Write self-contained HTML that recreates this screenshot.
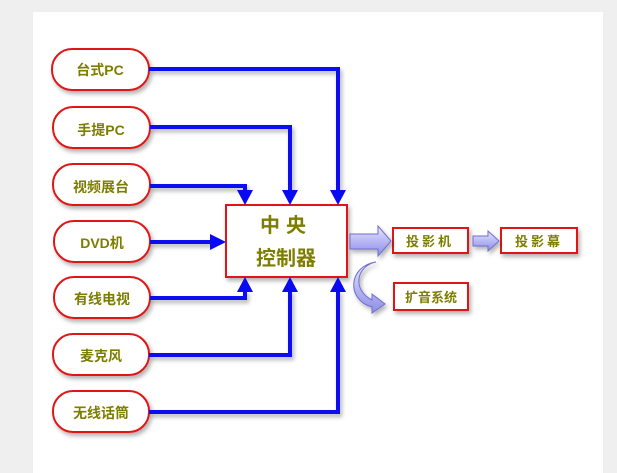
<!DOCTYPE html>
<html><head><meta charset="utf-8"><style>
html,body{margin:0;padding:0;background:#efefef;}
svg{display:block}
text{font-family:"Liberation Sans","Noto Sans CJK SC",sans-serif;font-weight:bold;fill:#7d7d00;}
</style></head><body>
<svg width="617" height="473" viewBox="0 0 617 473" xmlns="http://www.w3.org/2000/svg">
<defs>
<filter id="sh" x="-20%" y="-20%" width="150%" height="150%"><feDropShadow dx="2" dy="3" stdDeviation="2" flood-color="#000" flood-opacity="0.3"/></filter>
<linearGradient id="ag" x1="0" y1="0" x2="0" y2="1"><stop offset="0" stop-color="#e8e8ff"/><stop offset="0.5" stop-color="#b8b8f4"/><stop offset="1" stop-color="#8e8ee6"/></linearGradient>
</defs>
<rect x="33" y="12" width="570" height="461" fill="#fff"/>
<g fill="#fff" stroke="#e01818" stroke-width="2" filter="url(#sh)">
<rect x="52" y="49" width="97" height="41" rx="20"/>
<rect x="53" y="107" width="97" height="41" rx="20"/>
<rect x="53" y="164" width="97" height="41" rx="20"/>
<rect x="54" y="221" width="96" height="41" rx="20"/>
<rect x="54" y="277" width="96" height="41" rx="20"/>
<rect x="53" y="334" width="96" height="41" rx="20"/>
<rect x="53" y="391" width="96" height="41" rx="20"/>
<rect x="226" y="205" width="121" height="72"/>
<rect x="393" y="228" width="75" height="25"/>
<rect x="501" y="228" width="76" height="25"/>
<rect x="394" y="283" width="74" height="27"/>
</g>
<g font-size="14" text-anchor="middle">
<text x="100" y="75">台式PC</text>
<text x="101" y="135">手提PC</text>
<text x="101" y="192">视频展台</text>
<text x="102" y="248">DVD机</text>
<text x="102" y="304">有线电视</text>
<text x="101" y="361">麦克风</text>
<text x="101" y="418">无线话筒</text>
<text x="430" y="246" font-size="13" letter-spacing="3">投影机</text>
<text x="539" y="246" font-size="13" letter-spacing="3">投影幕</text>
<text x="431" y="302" font-size="13">扩音系统</text>
</g>
<text x="286" y="232" font-size="20" text-anchor="middle" letter-spacing="6">中央</text>
<text x="286" y="265" font-size="20" text-anchor="middle">控制器</text>
<g fill="none" stroke="#0a0af0" stroke-width="4" filter="url(#sh)">
<polyline points="149,69 338,69 338,192"/>
<polyline points="150,127 290,127 290,192"/>
<polyline points="150,186 245,186 245,192"/>
<polyline points="150,242 212,242"/>
<polyline points="150,298 245,298 245,290"/>
<polyline points="149,355 290,355 290,290"/>
<polyline points="149,412 338,412 338,290"/>
</g>
<g fill="#0a0af0">
<polygon points="330,190 346,190 338,205"/>
<polygon points="282,190 298,190 290,205"/>
<polygon points="237,190 253,190 245,205"/>
<polygon points="210,234 210,250 226,242"/>
<polygon points="237,292 253,292 245,277"/>
<polygon points="282,292 298,292 290,277"/>
<polygon points="330,292 346,292 338,277"/>
</g>
<g fill="url(#ag)" stroke="#7070d0" stroke-width="1" filter="url(#sh)">
<polygon points="350,234 378,234 378,226 391,241 378,256 378,249 350,249"/>
<polygon points="473,236 488,236 488,231 499,241 488,251 488,246 473,246"/>
<path d="M376,262 C356,266 352,290 372,300 L372,294 L385,304 L372,313 L372,307 C346,300 348,266 376,262 Z"/>
</g>
</svg>
</body></html>
